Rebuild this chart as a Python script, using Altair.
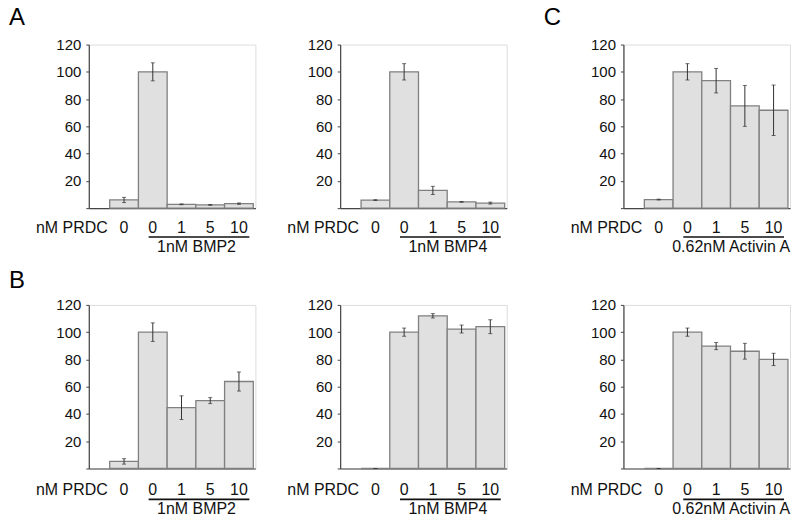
import altair as alt
import pandas as pd

# ---- data ----
positions = ["p0", "p1", "p2", "p3", "p4"]
tick_labels = ["0", "0", "1", "5", "10"]
row_label = ["nM PRDC"]

a1_vals = [6.0, 100.0, 2.8, 2.4, 3.3]
a1_err = [1.9, 6.6, 0.3, 0.3, 0.5]
a1_group = ["1nM BMP2"]

a2_vals = [5.9, 100.0, 13.0, 4.6, 3.7]
a2_err = [0.3, 6.0, 3.0, 0.3, 0.7]
a2_group = ["1nM BMP4"]

c1_vals = [6.3, 100.0, 93.5, 75.0, 71.8]
c1_err = [0.3, 6.0, 9.0, 15.0, 18.5]
c1_group = ["0.62nM Activin A"]

b1_vals = [5.2, 100.0, 44.6, 49.8, 63.8]
b1_err = [2.0, 6.8, 8.7, 2.2, 7.0]
b1_group = ["1nM BMP2"]

b2_vals = [0.0, 100.0, 112.0, 102.3, 104.0]
b2_err = [0.0, 3.0, 1.6, 2.9, 5.1]
b2_group = ["1nM BMP4"]

c2_vals = [0.0, 100.0, 89.8, 86.0, 80.0]
c2_err = [0.0, 3.0, 2.6, 5.8, 4.5]
c2_group = ["0.62nM Activin A"]

letters = ["A", "B", "C"]
y_ticks = [0, 20, 40, 60, 80, 100, 120]

W, H = 167, 164
FONT = "Liberation Sans"
YSC = alt.Scale(domain=[0, 120], nice=False)
YAX = alt.Axis(values=y_ticks, title=None,
               labelExpr="datum.value == 0 ? '' : datum.label",
               labelOverlap=False, labelBound=False,
               grid=False, tickSize=3, labelPadding=5,
               labelFontSize=15, labelColor="#111", labelFont=FONT,
               domainColor="#444", tickColor="#444", domainWidth=1.2)
XSC = alt.Scale(paddingInner=0, paddingOuter=0.4, align=0.91)
XAX = alt.Axis(labels=False, ticks=False, title=None,
               domainColor="#444", domainWidth=1.2)


def panel(vals, errs, group, letter, letter_dy, lab_dy, left_ext, top_ext, bot_ext):
    df = pd.DataFrame({
        "pos": positions,
        "lab": tick_labels,
        "v": vals,
        "lo": [v - e for v, e in zip(vals, errs)],
        "hi": [v + e for v, e in zip(vals, errs)],
    })
    xs = alt.X("pos:N", sort=positions, scale=XSC, axis=XAX)
    base = alt.Chart(df)
    bars = base.mark_bar(fill="#e0e0e0", stroke="#808080", strokeWidth=1.3).encode(
        x=xs, y=alt.Y("v:Q", scale=YSC, axis=YAX))
    err = base.mark_rule(color="#333", strokeWidth=1).encode(
        x=xs, y=alt.Y("lo:Q", scale=YSC, axis=YAX), y2="hi:Q")
    cap_hi = base.mark_tick(color="#333", orient="horizontal", size=4, thickness=1).encode(
        x=xs, y=alt.Y("hi:Q", scale=YSC, axis=YAX))
    cap_lo = base.mark_tick(color="#333", orient="horizontal", size=4, thickness=1).encode(
        x=xs, y=alt.Y("lo:Q", scale=YSC, axis=YAX))
    ticks_txt = base.mark_text(fontSize=16, font=FONT, baseline="middle", color="#111").encode(
        x=xs, y=alt.value(H + lab_dy), text="lab:N")
    rl = alt.Chart(pd.DataFrame({"t": row_label})).mark_text(
        fontSize=16, font=FONT, align="right", baseline="middle", color="#111").encode(
        x=alt.value(19), y=alt.value(H + lab_dy), text="t:N")
    uline = alt.Chart(pd.DataFrame({"t": group})).mark_rule(color="#111", strokeWidth=1.6).encode(
        x=alt.value(60), x2=alt.value(161), y=alt.value(H + lab_dy + 9))
    glab = alt.Chart(pd.DataFrame({"t": group})).mark_text(
        fontSize=16, font=FONT, baseline="middle", color="#111").encode(
        x=alt.value(108), y=alt.value(H + lab_dy + 19), text="t:N")
    # invisible layout guide fixing the panel's outer extent
    guide = alt.Chart(pd.DataFrame({"t": group})).mark_rule(opacity=0).encode(
        x=alt.value(-left_ext), x2=alt.value(-left_ext),
        y=alt.value(-top_ext), y2=alt.value(H + bot_ext))
    layers = [bars, err, cap_hi, cap_lo, ticks_txt, rl, uline, glab, guide]
    if letter:
        lt = alt.Chart(pd.DataFrame({"t": [letter]})).mark_text(
            fontSize=24, font=FONT, align="left", baseline="alphabetic", color="#000").encode(
            x=alt.value(-80), y=alt.value(letter_dy), text="t:N")
        layers.append(lt)
    return alt.layer(*layers).properties(width=W, height=H)


pA1 = panel(a1_vals, a1_err, a1_group, letters[0], -20, 20, 79, 37, 52)
pA2 = panel(a2_vals, a2_err, a2_group, "", -20, 20, 59, 37, 52)
pC1 = panel(c1_vals, c1_err, c1_group, letters[2], -20, 20, 91, 37, 52)
pB1 = panel(b1_vals, b1_err, b1_group, letters[1], -17, 22, 79, 38, 50)
pB2 = panel(b2_vals, b2_err, b2_group, "", -17, 22, 59, 38, 50)
pC2 = panel(c2_vals, c2_err, c2_group, "", -17, 22, 91, 38, 50)

chart = alt.concat(
    pA1, pA2, pC1, pB1, pB2, pC2,
    columns=3, spacing={"row": 5, "column": 24}, align="each", bounds="full",
).properties(
    padding={"left": 0, "top": -4, "right": 0, "bottom": 0}
).configure_view(strokeWidth=0, stroke="transparent").configure(background="white")

chart.save("out.html", embed_options={"renderer": "svg", "actions": False})
